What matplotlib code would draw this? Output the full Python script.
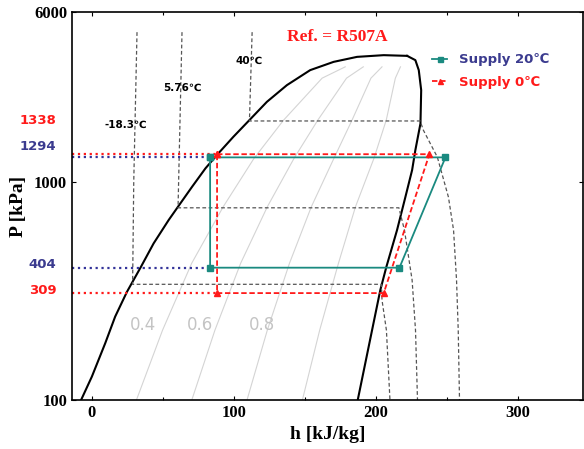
import numpy as np
import matplotlib.pyplot as plt

# saturation dome (h [kJ/kg], P [kPa])
liq_h = [-7.6, 0.0, 9.4, 16.4, 24.7, 34.6, 43.5, 54.1, 60.7, 70.6, 80.0, 88.0, 99.7,
         111.0, 123.3, 137.4, 153.8, 170.3, 186.8, 205.6, 222.1]
liq_p = [100, 128, 182, 241, 313, 408, 522, 668, 769, 949, 1152, 1325, 1608,
         1918, 2325, 2773, 3249, 3545, 3737, 3805, 3777]
vap_h = [222.1, 227.9, 230.3, 232.0, 231.5, 227.9, 225.6, 220.9, 215.0, 207.5, 203.2, 197.4, 187.3]
vap_p = [3777, 3610, 3249, 2631, 1851, 1397, 1131, 853, 601, 408, 319, 209, 100]

# constant quality lines x = 0.2 .. 0.8
q_p = [100, 209, 423, 768, 1280, 1918, 2985, 3364]
q_lines = [
    [31.4, 49.8, 70.3, 92.5, 114.2, 135.1, 162.2, 178.5],
    [70.4, 86.7, 104.8, 123.6, 142.4, 159.2, 179.4, 191.2],
    [109.3, 123.6, 139.2, 154.6, 170.5, 183.3, 196.6, 204.4],
    [148.3, 160.5, 173.7, 185.7, 198.7, 207.4, 213.8, 217.4],
]
q_labels = ['0.4', '0.6', '0.8']
q_label_h = [36, 76, 120]

# isotherms
iso_names = ['-18.3\u2103', '5.76\u2103', '40\u2103']
iso_h = [
    [31.8, 29.5, 28.7, 204.0, 204.4, 207.5, 210.0],
    [63.5, 60.7, 216.3, 220.2, 225.6, 228.0, 229.4],
    [112.9, 111.0, 231.3, 233.5, 243.4, 251.2, 254.8, 256.9, 258.1, 259.0],
]
iso_p = [
    [4850, 1000, 339, 339, 287, 209, 100],
    [4850, 760, 760, 601, 355, 209, 100],
    [4850, 1900, 1900, 1726, 1297, 851, 601, 355, 209, 100],
]
iso_label_pos = [(24, 1820), (64, 2707), (111, 3573)]

# cycles
c20_h = [83.3, 249.1, 216.7, 83.3, 83.3]
c20_p = [1294, 1294, 404, 404, 1294]
c0_h = [88.2, 237.8, 205.6, 88.2, 88.2]
c0_p = [1338, 1338, 309, 309, 1338]

teal = '#1a8a80'
red = '#ff1a1a'
navy = '#333399'
navy_txt = '#3b3b8f'

fig = plt.figure(figsize=(5.84, 4.49), dpi=100)
ax = fig.add_axes([72 / 584, 1 - 400 / 449, 511 / 584, 388 / 449])

ax.plot(liq_h, liq_p, color='black', lw=1.5)
ax.plot(vap_h, vap_p, color='black', lw=1.5)

for hq in q_lines:
    ax.plot(hq, q_p, color='#d4d4d4', lw=0.8)
for lab, hx in zip(q_labels, q_label_h):
    ax.text(hx, 220, lab, color='#c4c4c4', fontsize=12, ha='center', va='center',
            family='DejaVu Sans')

for hh, pp, name, pos in zip(iso_h, iso_p, iso_names, iso_label_pos):
    ax.plot(hh, pp, color='#555555', lw=0.9, dashes=(3, 2))
    ax.text(pos[0], pos[1], name, fontsize=7.5, fontweight='bold', ha='center', va='center',
            family=['DejaVu Sans', 'Noto Sans CJK KR'])

# dotted guides to the axis
xmin = -14
ax.plot([xmin, c0_h[0]], [c0_p[0]] * 2, color=red, ls=':', lw=1.6)
ax.plot([xmin, c20_h[0]], [c20_p[0]] * 2, color=navy, ls=':', lw=1.6)
ax.plot([xmin, c20_h[3]], [c20_p[3]] * 2, color=navy, ls=':', lw=1.6)
ax.plot([xmin, c0_h[3]], [c0_p[3]] * 2, color=red, ls=':', lw=1.6)

ax.plot(c20_h, c20_p, color=teal, lw=1.3, marker='s', ms=4, label='Supply 20\u2103')
ax.plot(c0_h, c0_p, color=red, lw=1.3, dashes=(3, 1.5), marker='^', ms=4, label='Supply 0\u2103')

ax.set_yscale('log')
ax.set_xlim(xmin, 346)
ax.set_ylim(100, 6000)
ax.set_yticks([100, 1000, 6000])
ax.set_yticklabels(['100', '1000', '6000'])
ax.minorticks_off()
ax.set_xticks([0, 100, 200, 300])
ax.set_xticks([50, 150, 250], minor=True)
ax.tick_params(which='both', direction='in', top=True, right=True, length=3, width=0.8)
ax.tick_params(axis='x', which='minor', length=2)
for lab in ax.get_xticklabels() + ax.get_yticklabels():
    lab.set_family('Liberation Serif')
    lab.set_fontweight('bold')
    lab.set_fontsize(12)
for s in ax.spines.values():
    s.set_linewidth(1.2)

ax.set_xlabel('h [kJ/kg]', family='Liberation Serif', fontweight='bold', fontsize=14, labelpad=4)
ax.set_ylabel('P [kPa]', family='Liberation Serif', fontweight='bold', fontsize=14, labelpad=5)

ax.text(0.52, 0.935, 'Ref. = R507A', transform=ax.transAxes, color=red, fontsize=12.5,
        fontweight='bold', family='Liberation Serif', ha='center', va='center')

# pressure labels on the left
p_labels = ['1338', '1294', '404', '309']
p_label_y = [1900, 1457, 418, 318]
p_colors = [red, navy_txt, navy_txt, red]
for t, yv, c in zip(p_labels, p_label_y, p_colors):
    ax.text(-0.03, yv, t, transform=ax.get_yaxis_transform(), color=c, fontsize=9.5,
            fontweight='bold', ha='right', va='center', family='DejaVu Sans')

leg = ax.legend(loc='upper left', bbox_to_anchor=(0.705, 0.894), frameon=False,
                borderpad=0, borderaxespad=0, handlelength=1.15,
                handletextpad=0.9, labelspacing=0.75, markerscale=0.9,
                prop={'family': ['DejaVu Sans', 'Noto Sans CJK KR'], 'weight': 'bold', 'size': 9.5})
for txt, c in zip(leg.get_texts(), [navy_txt, red]):
    txt.set_color(c)

fig.savefig('out.png', dpi=100)
